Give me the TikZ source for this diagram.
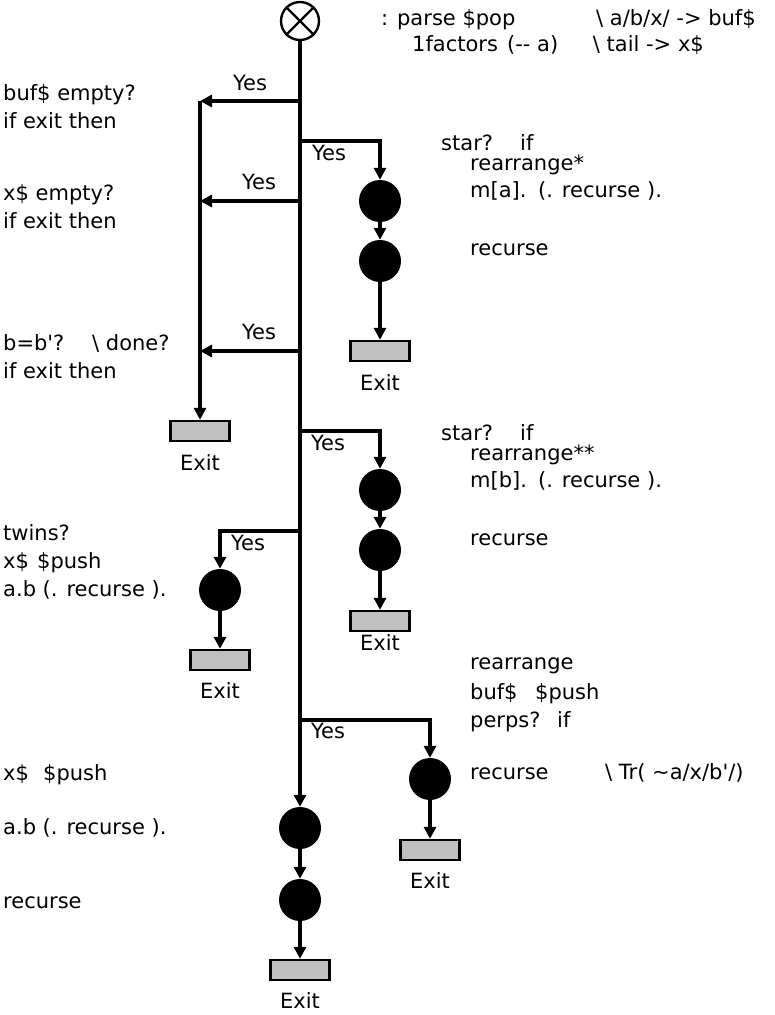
\documentclass[tikz,border=0pt]{standalone}
\usepackage{fontspec}
\setmainfont{DejaVu Sans}[Ligatures=TeXOff]
\usetikzlibrary{arrows.meta}
\begin{document}
\begin{tikzpicture}[x=1pt,y=-1pt,
  arr/.style={line width=3.2pt,-{Triangle[length=12pt,width=12pt]}},
  dot/.style={circle,fill=black,minimum size=42pt,inner sep=0pt},
  exitbox/.style={rectangle,draw=black,line width=2.4pt,fill={rgb,255:red,192;green,192;blue,192},minimum width=59pt,minimum height=20pt,inner sep=0pt},
  lbl/.style={anchor=base west,inner sep=0pt,font=\fontsize{21}{25}\selectfont},
  lble/.style={anchor=base east,inner sep=0pt,font=\fontsize{21}{25}\selectfont},
  cl/.style={anchor=base,inner sep=0pt,font=\fontsize{21}{25}\selectfont},
]
\useasboundingbox (0,0) rectangle (775,1015);

% start
\node[circle,draw=black,line width=2.4pt,minimum size=38pt,inner sep=0pt] (start) at (300,21) {};
\draw[line width=2.4pt] (start.north west) -- (start.south east);
\draw[line width=2.4pt] (start.north east) -- (start.south west);

% main column nodes
\node[dot] (m1) at (300,828) {};
\node[dot] (m2) at (300,900) {};
\node[exitbox] (e6) at (300,970) {};
\node[cl] (x6) at (300,1008) {Exit};
\draw[arr] (start) -- (m1);
\draw[arr] (m1) -- (m2);
\draw[arr] (m2) -- (e6);

% branch points
\coordinate (b1) at (300,101);
\coordinate (b2) at (300,201);
\coordinate (b3) at (300,351);
\coordinate (c1) at (300,141);
\coordinate (c2) at (300,431);
\coordinate (c3) at (300,531);
\coordinate (c4) at (300,720);

% left branch (exits)
\coordinate (l1) at (200,101);
\coordinate (l2) at (200,201);
\coordinate (l3) at (200,351);
\node[exitbox] (e1) at (200,431) {};
\node[cl] (x1) at (200,470) {Exit};
\draw[arr] (b1) -- (l1);
\draw[arr] (b2) -- (l2);
\draw[arr] (b3) -- (l3);
\draw[arr] (l1) -- (e1);
\node[cl] (y1) at (250,90) {Yes};
\node[cl] (y2) at (259,189) {Yes};
\node[cl] (y3) at (259,339) {Yes};

% right branch 1
\node[dot] (r1a) at (380,201) {};
\node[dot] (r1b) at (380,261) {};
\node[exitbox] (e2) at (380,351) {};
\node[cl] (x2) at (380,390) {Exit};
\draw[arr] (c1) -| (r1a);
\draw[arr] (r1a) -- (r1b);
\draw[arr] (r1b) -- (e2);
\node[cl] (y4) at (329,160) {Yes};

% right branch 2
\node[dot] (r2a) at (380,490) {};
\node[dot] (r2b) at (380,550) {};
\node[exitbox] (e3) at (380,621) {};
\node[cl] (x3) at (380,650) {Exit};
\draw[arr] (c2) -| (r2a);
\draw[arr] (r2a) -- (r2b);
\draw[arr] (r2b) -- (e3);
\node[cl] (y5) at (328,450) {Yes};

% left branch 2
\node[dot] (l4a) at (220,590) {};
\node[exitbox] (e4) at (220,660) {};
\node[cl] (x4) at (220,698) {Exit};
\draw[arr] (c3) -| (l4a);
\draw[arr] (l4a) -- (e4);
\node[cl] (y6) at (248,550) {Yes};

% right branch 3
\node[dot] (r3a) at (430,779) {};
\node[exitbox] (e5) at (430,850) {};
\node[cl] (x5) at (430,888) {Exit};
\draw[arr] (c4) -| (r3a);
\draw[arr] (r3a) -- (e5);
\node[cl] (y7) at (328,738) {Yes};

% top text
\node[lbl] (t1) at (381,25) {: parse \$pop};
\node[lbl] (t2) at (596,25) {\textbackslash{} a/b/x/ -> buf\$};
\node[lbl] (t3) at (412,51) {1factors};
\node[lbl] (t4) at (507,51) {(-- a)};
\node[lble] (t5) at (704,51) {\textbackslash{} tail -> x\$};

% left text
\node[lbl] (t6) at (3,100) {buf\$ empty?};
\node[lbl] (t7) at (3,128) {if exit then};
\node[lbl] (t8) at (3,200) {x\$ empty?};
\node[lbl] (t9) at (3,228) {if exit then};
\node[lbl] (t10) at (3,350) {b=b'?};
\node[lbl] (t11) at (92,350) {\textbackslash{} done?};
\node[lbl] (t12) at (3,378) {if exit then};
\node[lbl] (t13) at (3,540) {twins?};
\node[lbl] (t14) at (3,568) {x\$};
\node[lbl] (t14b) at (37,568) {\$push};
\node[lbl] (t15) at (3,596) {a.b (. recurse ).};
\node[lbl] (t16) at (3,780) {x\$};
\node[lbl] (t16b) at (43,780) {\$push};
\node[lbl] (t17) at (3,834) {a.b (. recurse ).};
\node[lbl] (t18) at (3,908) {recurse};

% right text
\node[lbl] (t19) at (441,150) {star?};
\node[lbl] (t20) at (520,150) {if};
\node[lbl] (t21) at (470,170) {rearrange*};
\node[lbl] (t22) at (470,197) {m[a].};
\node[lbl] (t23) at (538,197) {(. recurse ).};
\node[lbl] (t24) at (470,255) {recurse};
\node[lbl] (t25) at (441,440) {star?};
\node[lbl] (t26) at (520,440) {if};
\node[lbl] (t27) at (470,460) {rearrange**};
\node[lbl] (t28) at (470,487) {m[b].};
\node[lbl] (t29) at (538,487) {(. recurse ).};
\node[lbl] (t30) at (470,545) {recurse};
\node[lbl] (t31) at (470,669) {rearrange};
\node[lbl] (t32) at (470,699) {buf\$};
\node[lbl] (t33) at (535,699) {\$push};
\node[lbl] (t34) at (470,727) {perps?};
\node[lbl] (t35) at (557,727) {if};
\node[lbl] (t36) at (470,779) {recurse};
\node[lbl] (t37) at (605,779) {\textbackslash{} Tr( \textasciitilde a/x/b'/)};
\end{tikzpicture}
\end{document}
